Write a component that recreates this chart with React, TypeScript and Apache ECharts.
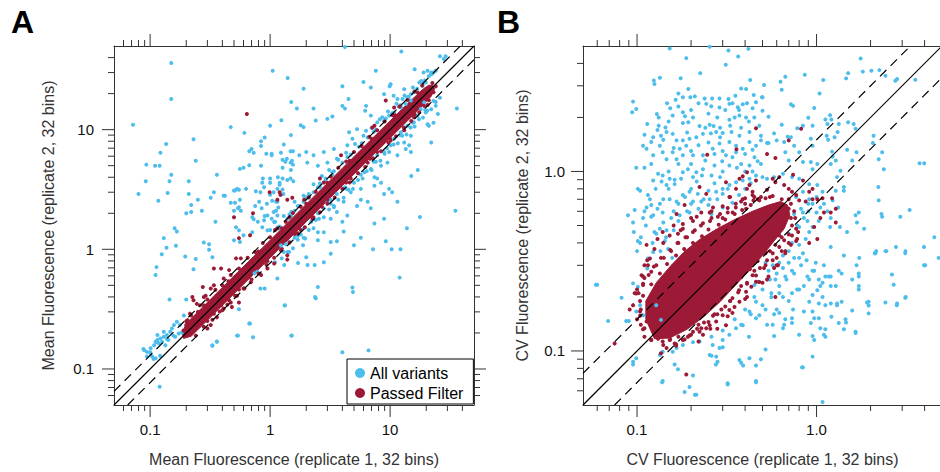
import React, { useEffect, useRef } from "react";
import * as echarts from "echarts";

const BLUE = "#4DBDEC";
const RED = "#9C1A35";
const FONT = "'Liberation Sans', Arial, Helvetica, sans-serif";

// ---------- Panel A (mean fluorescence) ----------
const aRange = [0.05, 50];
const aLabelValues = [0.1, 1, 10];
const aLabelTexts = ["0.1", "1", "10"];
const aTickMajor = [0.1, 1, 10];
const aTickMinor = [0.06, 0.07, 0.08, 0.09, 0.2, 0.3, 0.4, 0.5, 0.6, 0.7, 0.8, 0.9, 2, 3, 4, 5, 6, 7, 8, 9, 20, 30, 40];
const aDiag = [[0.05, 0.05], [50, 50]];
const aDashUp = [[0.05, 0.065], [50, 65]];
const aDashLo = [[0.065, 0.05], [65, 50]];

const aBlue = [
  [0.15, 36], [0.15, 18], [0.072, 11], [1.05, 31], [1.4, 27], [0.47, 10.5], [1.0, 10.8], [0.61, 9.4], [1.24, 12], [1.5, 17],
  [0.23, 8.3], [0.136, 7.6], [0.122, 6.4], [0.24, 5.5], [0.093, 5.1], [0.11, 5.0], [0.12, 5.0], [0.15, 4.2], [0.092, 3.7], [0.145, 3.7],
  [0.21, 3.7], [0.08, 2.9], [0.14, 2.95], [0.21, 2.9], [0.117, 2.55], [0.25, 2.6], [0.22, 2.35], [0.22, 2.05], [0.2, 2.0], [0.27, 2.1],
  [0.35, 1.7], [0.36, 4.2], [0.34, 3.0], [0.32, 2.7], [0.41, 2.8], [0.42, 2.8], [0.5, 3.1], [0.51, 3.1], [0.53, 3.2], [0.55, 3.15],
  [0.63, 3.2], [0.56, 2.6], [0.51, 2.45], [0.47, 2.45], [0.55, 2.25], [0.54, 2.2], [0.57, 2.1], [0.5, 2.1], [0.67, 6.6], [0.7, 6.9],
  [0.73, 6.4], [0.84, 7.3], [0.84, 8.0], [0.9, 8.6], [0.93, 6.3], [1.03, 6.3], [1.03, 6.1], [0.84, 5.0], [0.67, 5.05], [0.56, 4.7],
  [0.6, 4.8], [0.87, 3.9], [1.0, 3.9], [1.0, 3.6], [0.86, 3.6], [0.89, 3.3], [0.76, 3.05], [0.83, 3.0], [0.81, 2.5], [0.85, 2.2],
  [0.75, 2.3], [0.94, 2.4], [1.04, 2.55], [0.71, 1.85], [0.73, 1.78], [0.79, 1.7], [1.16, 4.0], [1.2, 3.6], [1.27, 3.9], [1.39, 3.8],
  [1.49, 4.6], [1.48, 5.3], [1.52, 5.5], [1.55, 5.1], [1.27, 4.8], [1.34, 5.4], [1.38, 5.7], [1.27, 5.6], [1.48, 6.6], [1.55, 6.6],
  [1.49, 9.0], [1.3, 7.5], [1.23, 6.4], [1.48, 3.9], [1.56, 3.7], [1.29, 2.9], [1.0, 2.86], [1.07, 3.0], [1.15, 3.2], [1.2, 3.46],
  [1.27, 3.16], [1.12, 2.5], [1.15, 2.5], [1.17, 2.24], [1.12, 2.1], [1.07, 2.05], [1.15, 1.92], [0.95, 1.92], [0.9, 1.9], [1.03, 1.8],
  [0.89, 1.75], [1.08, 1.69],
  [4.2, 49], [12.4, 45], [26, 41], [28, 39], [29, 41], [7.6, 31], [16, 32], [19, 30], [20.5, 31], [22, 30], [22, 29], [23, 30],
  [6.0, 25], [4.0, 23], [6.9, 22.5], [9.9, 23], [10.1, 24], [1.9, 22], [4.5, 18], [4.0, 15.8], [4.2, 15], [1.67, 15], [2.3, 15],
  [3.0, 12.3], [3.3, 12.9], [2.4, 11.9], [1.8, 10.9], [1.9, 10.5], [6.3, 15.8], [6.2, 14.4], [6.9, 13.1], [8.9, 19.8], [10.7, 19.2],
  [11.5, 18], [12.7, 18], [13.9, 18.6], [15.8, 20.5], [17.5, 24.8], [18.6, 23.3], [19.8, 24.8], [13.1, 21.8], [36, 15], [25, 13.5],
  [24, 15.8], [20.5, 11.1], [21, 10.8], [23, 11.4], [22, 7.8], [14.4, 7.4], [14.9, 6.5], [13.5, 6.9], [15, 4.1], [17, 4.6],
  [11.5, 2.5], [35, 2.1], [17.7, 1.86], [9.8, 3.2], [8.9, 2.9], [10.4, 3.0], [7.8, 3.9], [8.4, 3.6], [7.4, 4.0], [5.7, 2.6],
  [6.5, 2.5], [5.3, 2.3], [6.9, 2.2], [3.6, 2.05], [3.2, 1.8], [4.0, 1.7], [4.4, 1.92], [8.9, 1.8], [7.4, 1.64],
  [2.3, 6.1], [2.8, 6.5], [3.4, 6.9], [2.0, 6.5], [1.75, 6.1], [2.04, 5.3], [2.5, 5.0], [3.0, 5.3], [3.6, 5.7], [4.4, 7.4],
  [4.85, 8.4], [4.55, 9.5], [5.3, 10.1], [6.3, 9.8], [7.8, 11.5], [8.6, 12.7], [9.8, 13.1], [10.8, 13.9], [12.3, 15.3], [13.5, 16.4],
  [14.9, 17.5], [7.8, 6.1], [8.9, 6.5], [10.1, 7.4], [6.9, 4.7], [6.1, 4.4], [8.4, 5.0], [10.8, 8.4], [12.3, 9.5], [13.9, 10.8],
  [15.8, 11.5], [16.9, 13.1], [18, 14.9], [19.2, 16.9], [19.8, 13.9], [14.9, 8.9], [13.1, 7.8], [11.5, 6.1], [9.5, 5.3], [7.4, 3.4],
  [5.7, 3.2], [5.0, 3.6], [4.7, 3.0], [4.1, 2.5], [3.4, 2.3], [3.0, 2.5],
  [0.16, 1.5], [0.167, 1.41], [0.13, 1.24], [0.137, 1.03], [0.164, 1.07], [0.125, 0.91], [0.113, 0.71], [0.111, 0.61], [0.196, 0.87],
  [0.24, 0.83], [0.28, 1.14], [0.31, 1.1], [0.31, 0.99], [0.33, 0.86], [0.23, 0.68], [0.145, 0.38], [0.2, 0.38], [0.12, 0.071],
  [0.33, 0.158], [0.36, 0.169], [0.54, 0.19], [0.55, 0.316], [0.68, 0.24], [1.32, 0.34], [1.5, 0.19], [0.83, 0.47], [0.9, 0.47],
  [1.15, 0.57], [0.78, 0.65], [0.74, 0.63], [1.31, 0.74], [1.44, 0.95], [1.23, 1.08], [0.52, 1.53], [0.55, 1.44], [0.71, 1.39],
  [0.86, 1.53], [0.95, 1.44], [0.6, 1.31], [0.5, 1.19], [0.56, 1.15],
  [0.089, 0.144], [0.094, 0.139], [0.101, 0.149], [0.108, 0.158], [0.111, 0.169], [0.115, 0.175], [0.122, 0.18], [0.13, 0.186],
  [0.138, 0.192], [0.147, 0.205], [0.158, 0.233], [0.152, 0.218], [0.13, 0.205], [0.115, 0.192], [0.101, 0.135], [0.104, 0.127],
  [0.111, 0.123], [0.094, 0.127], [0.118, 0.164], [0.126, 0.169], [0.134, 0.158], [0.142, 0.175], [0.162, 0.186], [0.173, 0.198],
  [0.177, 0.233], [0.167, 0.248], [0.191, 0.28], [0.088, 0.147], [0.1, 0.138], [0.114, 0.167], [0.138, 0.178], [0.156, 0.19],
  [0.184, 0.202], [0.121, 0.129], [0.107, 0.121],
  [13.8, 1.5], [5.7, 1.25], [9.2, 1.17], [7.2, 1.0], [10.3, 1.0], [12.2, 1.0], [5.0, 1.08], [3.2, 0.92], [4.1, 1.41], [3.6, 1.17],
  [3.2, 1.15], [2.8, 0.78], [2.35, 0.74], [2.05, 0.74], [1.71, 0.77], [2.0, 0.86], [1.88, 1.08], [2.5, 1.19], [2.8, 1.39], [2.5, 1.39],
  [1.96, 1.23], [12, 0.58], [2.5, 0.485], [2.4, 0.39], [4.85, 0.48], [4.9, 0.44], [4.0, 0.138], [6.6, 0.143], [1.52, 0.19],
  [1.33, 0.34], [0.72, 0.184], [0.53, 0.19], [0.36, 0.17], [0.33, 0.156], [0.67, 0.24], [2.37, 0.4],
  [1.6, 2.1], [1.7, 2.3], [1.9, 2.5], [2.1, 2.7], [2.3, 3.0], [2.6, 3.3], [2.9, 3.7], [3.3, 4.2], [1.7, 1.3], [1.9, 1.5],
  [2.2, 1.7], [2.5, 2.0], [2.8, 2.2], [3.2, 2.6], [3.6, 2.9], [4.2, 3.3], [1.5, 1.9], [1.4, 1.8], [1.35, 1.1], [1.6, 1.25],
  [1.2, 1.5], [1.1, 1.45], [1.25, 1.02], [1.45, 1.15],
];

// dense blue fringe hugging the band
const aBlueFringe = [
  [1.0, 1.45], [1.1, 1.7], [1.2, 1.55], [1.3, 1.9], [1.45, 1.95], [1.6, 2.5], [1.75, 2.3], [1.9, 2.8], [2.1, 2.9], [2.3, 3.5],
  [2.5, 3.3], [2.7, 4.1], [2.9, 3.9], [3.1, 4.6], [3.4, 4.5], [3.7, 5.6], [4.0, 5.3], [4.3, 6.4], [4.7, 6.2], [5.1, 7.6],
  [5.5, 7.2], [6.0, 8.9], [6.5, 8.6], [7.0, 10.3], [7.6, 10.0], [8.2, 12.2], [8.9, 11.8], [9.6, 14.2], [10.4, 13.7], [11.3, 16.5],
  [12.2, 16.0], [13.2, 19.3], [14.3, 18.8], [15.5, 22.5], [16.8, 22], [18.2, 25.5], [19.5, 25.8], [21, 28], [22.5, 29.5], [24, 31],
  [1.1, 0.78], [1.25, 0.84], [1.4, 0.95], [1.55, 1.02], [1.7, 1.2], [1.9, 1.25], [2.1, 1.45], [2.3, 1.5], [2.55, 1.8], [2.8, 1.85],
  [3.1, 2.15], [3.4, 2.25], [3.7, 2.6], [4.1, 2.7], [4.5, 3.15], [4.9, 3.2], [5.4, 3.8], [5.9, 3.9], [6.4, 4.5], [7.0, 4.6],
  [7.6, 5.4], [8.3, 5.5], [9.0, 6.3], [9.8, 6.5], [10.7, 7.5], [11.6, 7.7], [12.6, 8.9], [13.7, 9.1], [14.8, 10.4], [16, 10.6],
  [17.4, 12.2], [18.8, 12.6], [20.4, 14.4], [22, 14.8], [24, 17], [26, 18.5],
  [1.15, 1.52], [1.5, 2.05], [2.0, 2.72], [2.6, 3.55], [3.3, 4.4], [4.4, 5.9], [5.8, 7.7], [7.3, 9.6], [9.2, 12.4], [11.8, 15.6],
  [14.9, 19.8], [19, 24.6], [1.3, 0.95], [1.8, 1.33], [2.4, 1.76], [3.2, 2.4], [4.3, 3.2], [5.7, 4.2], [7.3, 5.4], [9.4, 7.0],
  [12.1, 9.0], [15.4, 11.4], [19.6, 14.6], [23, 17.4],
];

const aRed = [
  [0.64, 13.5], [0.72, 2.0], [0.5, 1.85], [0.99, 3.0], [1.2, 3.0], [1.22, 2.85], [1.15, 2.6], [1.39, 2.6], [1.53, 2.7],
  [0.34, 0.69], [0.39, 0.69], [0.455, 0.67], [0.41, 0.57], [0.52, 0.84], [0.57, 0.84], [0.55, 1.24], [0.68, 1.31], [1.39, 0.82],
  [1.23, 0.98], [0.78, 0.81], [0.225, 0.4], [0.23, 0.376], [0.245, 0.35], [0.28, 0.4], [0.29, 0.41], [0.32, 0.47], [0.34, 0.5],
  [0.275, 0.485], [0.47, 0.485], [0.455, 0.376], [0.39, 0.34], [0.4, 0.31], [0.34, 0.29], [0.315, 0.295], [0.28, 0.34],
  [0.315, 0.33], [0.23, 0.248], [0.245, 0.233], [0.205, 0.256], [0.215, 0.29], [0.2, 0.233], [0.69, 0.53], [0.84, 0.61],
  [0.95, 0.69], [1.08, 0.76], [1.39, 0.89], [0.61, 0.47], [0.53, 0.41], [0.47, 0.36], [0.41, 0.32], [0.36, 0.27], [0.32, 0.233],
  [0.3, 0.218], [0.48, 0.33], [0.55, 0.36], [7.4, 10.8], [9.2, 17.5], [10.8, 15.3], [7.1, 10.4], [3.9, 6.1], [2.6, 3.9],
  [1.92, 2.6], [6.5, 5.3], [7.8, 6.5], [10.1, 8.1], [13.1, 9.9], [15.8, 12.7], [19.2, 15.8], [4.7, 3.9], [3.6, 3.2], [3.0, 2.6],
  [1.1, 1.45], [1.45, 1.85], [1.8, 1.45], [2.3, 1.85],
];

// ragged red speckle along both edges of the band
const aRedEdge = [
  [0.22, 0.28], [0.26, 0.34], [0.3, 0.38], [0.35, 0.46], [0.4, 0.5], [0.47, 0.61], [0.55, 0.69], [0.65, 0.85], [0.75, 0.95],
  [0.87, 1.13], [1.0, 1.26], [1.15, 1.49], [1.35, 1.7], [1.55, 2.01], [1.8, 2.27], [2.1, 2.72], [2.4, 3.03], [2.8, 3.62],
  [3.2, 4.05], [3.7, 4.8], [4.3, 5.42], [5.0, 6.5], [5.8, 7.3], [6.7, 8.7], [7.8, 9.9], [9.0, 11.7], [10.5, 13.2], [12, 15.6],
  [14, 17.7], [16, 20.8], [18.5, 23.4],
  [0.24, 0.19], [0.28, 0.225], [0.33, 0.258], [0.38, 0.302], [0.44, 0.345], [0.51, 0.41], [0.6, 0.47], [0.7, 0.56], [0.8, 0.628],
  [0.93, 0.745], [1.08, 0.85], [1.25, 1.0], [1.45, 1.14], [1.7, 1.36], [1.95, 1.53], [2.25, 1.8], [2.6, 2.04], [3.0, 2.4],
  [3.45, 2.71], [4.0, 3.2], [4.6, 3.62], [5.4, 4.33], [6.2, 4.87], [7.2, 5.76], [8.4, 6.6], [9.7, 7.76], [11.2, 8.8], [13, 10.4],
  [15, 11.8], [17.5, 14.0], [20.5, 16.1],
  [0.25, 0.3], [0.45, 0.54], [0.8, 0.96], [1.25, 1.5], [2.0, 2.4], [3.0, 3.6], [4.6, 5.5], [7.0, 8.4], [11, 13.2], [17, 20.4],
  [0.3, 0.252], [0.55, 0.462], [0.95, 0.8], [1.6, 1.34], [2.7, 2.27], [4.3, 3.61], [6.8, 5.71], [10, 8.4], [16, 13.4], [21, 17.6],
  [0.2, 0.25], [0.21, 0.2], [0.19, 0.21], [22.5, 24.5], [24, 23], [23, 20.5],
];

const aRedCore = [
  [0.185, 0.2], [0.2, 0.24], [0.3, 0.36], [0.5, 0.6], [1, 1.19], [2, 2.38], [4, 4.76], [8, 9.5], [14, 16.5], [19, 22],
  [21, 23.5], [22.5, 23.5], [23.5, 22], [22, 19], [16, 13.6], [8, 6.8], [4, 3.4], [2, 1.7], [1, 0.85], [0.5, 0.425], [0.3, 0.255],
  [0.22, 0.188], [0.19, 0.18],
];

// ---------- Panel B (CV fluorescence) ----------
const bRange = [0.05, 5];
const bLabelValues = [0.1, 1];
const bLabelTexts = ["0.1", "1.0"];
const bTickMajor = [0.1, 1];
const bTickMinor = [0.06, 0.07, 0.08, 0.09, 0.2, 0.3, 0.4, 0.5, 0.6, 0.7, 0.8, 0.9, 2, 3, 4];
const bDiag = [[0.05, 0.05], [5, 5]];
const bDashUp = [[0.05, 0.075], [5, 7.5]];
const bDashLo = [[0.075, 0.05], [7.5, 5]];

const bBlue = [
  [0.152, 4.84], [0.254, 4.95], [0.323, 4.72], [0.417, 4.82], [0.188, 4.28], [0.366, 4.37], [0.312, 3.93], [0.225, 3.53],
  [0.124, 3.21], [0.125, 3.07], [0.134, 3.33], [0.175, 3.31], [0.427, 3.23], [0.193, 2.88], [0.17, 2.72], [0.18, 2.59],
  [0.198, 2.59], [0.21, 2.62], [0.095, 2.45], [0.099, 2.23], [0.094, 2.14], [0.147, 2.4], [0.164, 2.51], [0.153, 2.25],
  [0.238, 2.55], [0.262, 2.55], [0.288, 2.55], [0.323, 2.53], [0.353, 2.64], [0.38, 2.9], [0.405, 2.88], [0.447, 2.67],
  [0.46, 2.43], [0.497, 2.59], [0.243, 2.38], [0.259, 2.31], [0.288, 2.27], [0.327, 2.38], [0.364, 2.28], [0.388, 2.37],
  [0.129, 2.09], [0.132, 2.0], [0.114, 1.84], [0.132, 1.8], [0.144, 1.76], [0.158, 2.05], [0.18, 2.14], [0.185, 2.03],
  [0.18, 1.86], [0.193, 1.88], [0.205, 2.0], [0.223, 1.79], [0.254, 1.82], [0.267, 1.79], [0.29, 1.75], [0.327, 1.94],
  [0.35, 2.0], [0.372, 2.05], [0.405, 2.0], [0.44, 2.25], [0.423, 1.66], [0.372, 1.58], [0.336, 1.66], [0.3, 1.64],
  [0.276, 1.66], [0.258, 1.63], [0.12, 1.46], [0.123, 1.55], [0.136, 1.58], [0.146, 1.66], [0.158, 1.62], [0.166, 1.49],
  [0.18, 1.49], [0.196, 1.52], [0.214, 1.55], [0.233, 1.62], [0.188, 1.39], [0.173, 1.34], [0.158, 1.28], [0.139, 1.28],
  [0.134, 1.39], [0.123, 1.23], [0.113, 1.34], [0.108, 1.39], [0.146, 1.17], [0.166, 1.17], [0.18, 1.23], [0.205, 1.23],
  [0.233, 1.23], [0.264, 1.34], [0.288, 1.43], [0.327, 1.46], [0.356, 1.39], [0.388, 1.34], [0.423, 1.46], [0.46, 1.39],
  [0.49, 1.49], [0.099, 1.05], [0.11, 1.05], [0.101, 0.8], [0.104, 0.78], [0.115, 0.74], [0.131, 0.97], [0.139, 0.95],
  [0.152, 0.91], [0.123, 0.89], [0.146, 0.84], [0.162, 0.85], [0.18, 0.99], [0.192, 1.03], [0.176, 0.91], [0.205, 0.93],
  [0.214, 0.99], [0.233, 1.03], [0.27, 1.08], [0.298, 1.14], [0.313, 1.23], [0.356, 1.28], [0.451, 1.2], [0.47, 1.14],
  [0.49, 1.1], [0.423, 1.08], [0.38, 1.1], [0.327, 1.08], [0.089, 0.57], [0.097, 0.61], [0.113, 0.63], [0.12, 0.65],
  [0.134, 0.66], [0.152, 0.7], [0.166, 0.68], [0.18, 0.74], [0.196, 0.77], [0.218, 0.75], [0.205, 0.68], [0.228, 0.68],
  [0.254, 0.7], [0.276, 0.77], [0.3, 0.8], [0.327, 0.84], [0.356, 0.87], [0.388, 0.89], [0.423, 0.91], [0.46, 0.95],
  [0.173, 0.57], [0.196, 0.59], [0.139, 0.59], [0.123, 0.57], [0.108, 0.55], [0.095, 0.52],
  [0.096, 0.46], [0.104, 0.4], [0.101, 0.41], [0.125, 0.46], [0.134, 0.48], [0.146, 0.47], [0.143, 0.41], [0.149, 0.37],
  [0.157, 0.33], [0.059, 0.234], [0.082, 0.198], [0.069, 0.147], [0.087, 0.147], [0.09, 0.147], [0.095, 0.238], [0.101, 0.228],
  [0.104, 0.18], [0.099, 0.166], [0.108, 0.158], [0.114, 0.288], [0.115, 0.327], [0.123, 0.356], [0.128, 0.18], [0.136, 0.149],
  [0.095, 0.087], [0.099, 0.091], [0.139, 0.068], [0.169, 0.079], [0.184, 0.059], [0.196, 0.063], [0.214, 0.057], [0.372, 0.089],
  [0.38, 0.086], [0.423, 0.091], [0.46, 0.068], [0.32, 0.066], [0.223, 0.113], [0.205, 0.112], [0.3, 0.115], [0.327, 0.123],
  [0.356, 0.134], [0.388, 0.139], [0.423, 0.166], [0.46, 0.188], [0.47, 0.243], [0.451, 0.233], [0.48, 0.158], [0.46, 0.152],
  [0.264, 0.108], [0.276, 0.093], [0.281, 0.087], [0.254, 0.095], [0.288, 0.104], [0.158, 0.099], [0.166, 0.104], [0.18, 0.108],
  [0.139, 0.099], [0.134, 0.095], [0.162, 0.084],
  [1.76, 4.26], [1.5, 3.53], [1.46, 3.3], [1.81, 3.6], [2.02, 3.64], [2.24, 3.67], [2.42, 3.41], [2.81, 3.27], [2.75, 3.2],
  [3.55, 3.24], [1.09, 3.23], [0.86, 3.46], [0.67, 3.37], [0.63, 3.16], [0.64, 2.85], [0.51, 3.03], [0.5, 2.59], [0.5, 2.18],
  [0.54, 2.02], [0.72, 2.37], [0.74, 2.32], [1.04, 2.72], [0.97, 2.26], [1.19, 2.06], [1.12, 1.95], [1.21, 1.95], [0.9, 1.99],
  [0.95, 1.8], [0.84, 1.8], [0.78, 1.74], [0.72, 1.55], [0.69, 1.56], [0.66, 1.46], [0.6, 1.49], [0.58, 1.63], [0.53, 1.44],
  [0.54, 1.44], [0.64, 1.82], [0.49, 1.58], [1.15, 1.84], [1.33, 1.84], [1.5, 1.88], [1.61, 1.84], [1.65, 1.73], [1.31, 1.66],
  [1.26, 1.55], [1.16, 1.5], [1.14, 1.58], [0.93, 1.52], [0.95, 1.39], [0.75, 1.39], [0.8, 1.28], [0.67, 1.28], [0.7, 1.15],
  [0.84, 1.13], [0.93, 1.13], [1.01, 1.1], [0.95, 1.03], [1.2, 1.1], [1.28, 1.15], [1.23, 1.21], [1.22, 1.29], [1.48, 1.32],
  [1.67, 1.28], [1.58, 1.15], [1.36, 1.01], [1.3, 0.93], [2.08, 1.58], [2.06, 1.44], [2.32, 1.28], [2.22, 0.69], [2.21, 0.82],
  [2.37, 1.03], [2.22, 1.17],
  [1.42, 0.78], [1.28, 0.78], [1.08, 0.77], [1.23, 0.69], [1.32, 0.63], [1.03, 0.53], [1.0, 0.59], [1.05, 0.63], [1.2, 0.55],
  [0.95, 0.49], [1.19, 0.49], [1.35, 0.49], [1.42, 0.82], [1.48, 0.46], [1.72, 0.59], [1.65, 0.57], [1.68, 0.52], [1.84, 0.48],
  [2.3, 0.58], [2.32, 0.56], [2.93, 0.56], [3.3, 0.61], [3.75, 1.11], [3.98, 1.11], [4.53, 0.43], [4.79, 0.33], [3.97, 0.38],
  [3.97, 0.3], [3.13, 0.36], [2.77, 0.38], [2.45, 0.36], [2.15, 0.36], [2.11, 0.35], [1.73, 0.33], [1.67, 0.3], [1.72, 0.26],
  [1.58, 0.25], [1.38, 0.27], [1.33, 0.28], [1.2, 0.26], [1.17, 0.26], [1.12, 0.26], [1.1, 0.3], [0.99, 0.31], [0.97, 0.28],
  [0.89, 0.26], [0.91, 0.25], [1.03, 0.25], [1.28, 0.23], [1.2, 0.23], [1.05, 0.23], [0.85, 0.23], [0.8, 0.22], [0.73, 0.21],
  [0.65, 0.2], [0.62, 0.21], [0.56, 0.2], [0.52, 0.17], [0.58, 0.16], [0.57, 0.14], [0.65, 0.134], [0.73, 0.152], [0.73, 0.143],
  [0.8, 0.123], [0.85, 0.166], [0.91, 0.188], [0.95, 0.205], [1.01, 0.218], [1.03, 0.184], [1.08, 0.2], [1.12, 0.18], [1.2, 0.184],
  [1.3, 0.184], [1.38, 0.188], [0.95, 0.166], [0.97, 0.152], [1.03, 0.152], [0.93, 0.143], [1.05, 0.134], [1.21, 0.155],
  [1.33, 0.143], [1.46, 0.144], [1.58, 0.168], [1.72, 0.23], [1.95, 0.188], [1.95, 0.162], [1.95, 0.179], [2.42, 0.186],
  [2.81, 0.184], [3.14, 0.2], [1.65, 0.128], [0.97, 0.115], [1.1, 0.123], [1.12, 0.12], [0.95, 0.093], [0.84, 0.081],
  [1.08, 0.052], [0.49, 0.09],
  [0.5, 0.93], [0.53, 0.91], [0.58, 0.93], [0.65, 0.97], [0.73, 0.93], [0.8, 0.91], [0.91, 0.85], [1.01, 0.84], [0.84, 0.77],
  [0.77, 0.72], [0.91, 0.7], [0.95, 0.66], [0.84, 0.59], [0.89, 0.53], [0.8, 0.49], [0.91, 0.46], [0.87, 0.42], [0.8, 0.39],
  [0.73, 0.4], [0.7, 0.36], [0.65, 0.34], [0.62, 0.31], [0.57, 0.3], [0.52, 0.31], [0.54, 0.28], [0.59, 0.25], [0.67, 0.26],
  [0.73, 0.28], [0.8, 0.33], [0.84, 0.35],
  [4.03, 0.3], [3.12, 0.35], [2.42, 0.36], [2.13, 0.35], [1.42, 0.34], [1.2, 0.38], [0.95, 0.28], [1.08, 0.24], [1.3, 0.18],
  [1.65, 0.126], [1.91, 0.186], [2.8, 0.18], [3.12, 0.198], [2.69, 0.234], [2.63, 0.267], [1.72, 0.27], [1.72, 0.22], [1.45, 0.15],
  [1.42, 0.132], [1.12, 0.132], [0.95, 0.121], [0.83, 0.081], [0.46, 0.067], [0.32, 0.065], [0.21, 0.057], [0.138, 0.067],
  [0.205, 0.073], [0.06, 0.234], [0.095, 0.084], [0.62, 0.163], [0.67, 0.15], [0.58, 0.121], [0.52, 0.102], [0.39, 0.083],
  [0.46, 0.083], [0.275, 0.084], [0.26, 0.094],
  [0.11, 1.6], [0.13, 1.7], [0.15, 1.9], [0.17, 2.3], [0.2, 2.2], [0.22, 2.4], [0.25, 2.1], [0.28, 2.0], [0.31, 2.2], [0.34, 2.4],
  [0.37, 2.2], [0.41, 2.4], [0.45, 2.0], [0.48, 1.8], [0.42, 1.9], [0.38, 1.75], [0.33, 1.8], [0.29, 1.55], [0.25, 1.45],
  [0.22, 1.4], [0.2, 1.3], [0.17, 1.1], [0.2, 1.1], [0.24, 1.15], [0.27, 1.25], [0.3, 1.3], [0.34, 1.2], [0.4, 1.25], [0.44, 1.32],
  [0.15, 1.0], [0.12, 1.1], [0.26, 0.95], [0.3, 1.0], [0.36, 1.05], [0.4, 1.0], [0.44, 1.0], [0.14, 1.5], [0.16, 1.35],
  [0.19, 1.65], [0.24, 1.75],
];

// blue that crowds around the red cloud
const bBlueNear = [
  [0.1, 0.36], [0.105, 0.43], [0.112, 0.5], [0.12, 0.56], [0.13, 0.62], [0.14, 0.7], [0.15, 0.8], [0.162, 0.9], [0.11, 0.6],
  [0.118, 0.7], [0.127, 0.8], [0.137, 0.88], [0.16, 0.6], [0.17, 0.66], [0.185, 0.72], [0.2, 0.8], [0.215, 0.88], [0.23, 0.95],
  [0.19, 0.6], [0.2, 0.66], [0.22, 0.62], [0.235, 0.7], [0.25, 0.78], [0.27, 0.86], [0.29, 0.93], [0.14, 0.52], [0.155, 0.55],
  [0.17, 0.53], [0.128, 0.45], [0.122, 0.4], [0.135, 0.36], [0.145, 0.43], [0.16, 0.47], [0.25, 0.65], [0.28, 0.7], [0.3, 0.75],
  [0.32, 0.8], [0.34, 0.67], [0.37, 0.74], [0.4, 0.8], [0.43, 0.86], [0.3, 0.63], [0.26, 0.58],
  [0.3, 0.13], [0.35, 0.15], [0.4, 0.17], [0.45, 0.2], [0.5, 0.22], [0.55, 0.25], [0.6, 0.27], [0.65, 0.29], [0.7, 0.31],
  [0.75, 0.33], [0.38, 0.14], [0.43, 0.16], [0.5, 0.18], [0.56, 0.21], [0.62, 0.23], [0.68, 0.25], [0.75, 0.27], [0.82, 0.3],
  [0.88, 0.32], [0.26, 0.12], [0.3, 0.105], [0.42, 0.12], [0.53, 0.14], [0.6, 0.17], [0.7, 0.19], [0.78, 0.22], [0.66, 0.14],
  [0.74, 0.17], [0.7, 0.45], [0.78, 0.5], [0.85, 0.55], [0.9, 0.6], [0.75, 0.58], [0.82, 0.62], [0.9, 0.66], [1.0, 0.72],
  [1.1, 0.66], [1.15, 0.6],
];

const bRed = [
  [0.46, 1.74], [0.246, 1.24], [0.358, 1.33], [0.41, 0.99], [0.388, 0.94], [0.372, 0.91], [0.313, 0.87], [0.356, 0.8],
  [0.423, 0.84], [0.46, 0.89], [0.44, 0.77], [0.47, 0.7], [0.327, 0.72], [0.388, 0.7], [0.223, 0.82], [0.243, 0.75],
  [0.184, 0.65], [0.166, 0.58], [0.205, 0.53], [0.18, 0.51], [0.254, 0.59], [0.228, 0.59], [0.3, 0.55], [0.341, 0.59],
  [0.405, 0.62], [0.075, 0.11], [0.099, 0.209], [0.095, 0.18], [0.104, 0.166], [0.113, 0.146], [0.11, 0.134], [0.125, 0.131],
  [0.131, 0.117], [0.139, 0.113], [0.152, 0.115], [0.162, 0.11], [0.18, 0.115], [0.192, 0.12], [0.205, 0.128], [0.223, 0.128],
  [0.243, 0.134], [0.254, 0.139], [0.3, 0.158], [0.327, 0.169], [0.349, 0.176], [0.372, 0.188], [0.188, 0.074], [0.136, 0.097],
  [0.146, 0.104], [0.233, 0.123], [0.276, 0.146], [0.313, 0.139], [0.405, 0.214], [0.433, 0.228], [0.46, 0.243], [0.139, 0.46],
  [0.152, 0.44], [0.169, 0.45], [0.18, 0.48], [0.125, 0.37], [0.118, 0.327], [0.12, 0.276], [0.108, 0.233], [0.106, 0.264],
  [0.113, 0.39], [0.11, 0.3], [0.097, 0.21], [0.091, 0.17], [0.82, 1.73], [0.53, 1.25], [0.59, 1.19], [0.7, 1.49], [0.74, 0.96],
  [0.84, 0.89], [0.59, 0.87], [0.57, 0.91], [0.62, 0.93], [0.66, 0.84], [0.7, 0.8], [0.73, 0.77], [0.77, 0.74], [0.8, 0.69],
  [0.87, 0.68], [0.91, 0.77], [0.95, 0.8], [0.95, 0.7], [1.01, 0.7], [1.08, 0.71], [1.22, 0.71], [1.28, 0.62], [1.2, 0.59],
  [1.28, 0.52], [1.1, 0.59], [1.05, 0.55], [0.97, 0.49], [1.01, 0.42], [0.91, 0.4], [0.78, 0.42], [0.77, 0.48], [0.73, 0.44],
  [0.72, 0.39], [0.67, 0.36], [0.6, 0.33], [0.6, 0.3], [0.54, 0.26], [0.53, 0.25], [0.59, 0.2], [0.52, 0.36], [0.5, 0.39],
  [0.49, 0.42], [0.13, 0.42], [0.16, 0.5], [0.2, 0.55], [0.26, 0.6], [0.3, 0.64], [0.38, 0.68], [0.45, 0.72], [0.55, 0.72],
  [0.64, 0.7], [0.7, 0.62], [0.72, 0.55], [0.62, 0.44], [0.55, 0.36], [0.52, 0.3], [0.45, 0.28], [0.38, 0.23], [0.33, 0.19],
  [0.27, 0.16], [0.22, 0.14], [0.17, 0.12], [0.14, 0.108], [0.12, 0.115], [0.105, 0.14], [0.104, 0.19], [0.108, 0.26],
  [0.115, 0.3],
];

// speckled red around the solid core of the cloud
const bRedEdge = [
  [0.108, 0.203], [0.1, 0.22], [0.134, 0.27], [0.124, 0.295], [0.114, 0.32], [0.165, 0.34], [0.153, 0.365], [0.14, 0.4],
  [0.205, 0.4], [0.19, 0.43], [0.175, 0.47], [0.25, 0.475], [0.233, 0.515], [0.215, 0.56], [0.31, 0.54], [0.29, 0.58],
  [0.265, 0.63], [0.385, 0.61], [0.355, 0.66], [0.33, 0.72], [0.48, 0.69], [0.44, 0.74], [0.41, 0.8], [0.57, 0.73],
  [0.53, 0.79], [0.12, 0.235], [0.11, 0.255], [0.147, 0.305], [0.136, 0.33], [0.183, 0.37], [0.17, 0.4], [0.23, 0.435],
  [0.21, 0.47], [0.285, 0.505], [0.26, 0.55], [0.35, 0.58], [0.32, 0.625], [0.43, 0.65], [0.4, 0.71], [0.52, 0.71],
  [0.73, 0.5], [0.79, 0.46], [0.64, 0.43], [0.7, 0.4], [0.52, 0.35], [0.57, 0.32], [0.61, 0.3], [0.425, 0.285], [0.46, 0.263],
  [0.5, 0.24], [0.34, 0.23], [0.366, 0.212], [0.4, 0.195], [0.27, 0.184], [0.295, 0.17], [0.32, 0.156], [0.218, 0.156],
  [0.236, 0.144], [0.256, 0.133], [0.18, 0.132], [0.196, 0.122], [0.153, 0.116], [0.165, 0.107], [0.59, 0.39], [0.64, 0.36],
  [0.47, 0.317], [0.51, 0.29], [0.38, 0.257], [0.41, 0.237], [0.305, 0.207], [0.33, 0.19], [0.245, 0.17], [0.265, 0.157],
  [0.2, 0.144], [0.216, 0.133], [0.104, 0.157], [0.108, 0.132], [0.11, 0.12], [0.12, 0.115], [0.105, 0.17], [0.1, 0.15],
  [0.72, 0.66], [0.75, 0.6], [0.7, 0.7], [0.76, 0.55],
  [0.7, 0.445], [0.77, 0.41], [0.62, 0.38], [0.67, 0.35], [0.53, 0.32], [0.58, 0.29], [0.44, 0.264], [0.48, 0.242],
  [0.37, 0.218], [0.41, 0.2], [0.31, 0.177], [0.34, 0.163], [0.25, 0.145], [0.28, 0.133], [0.2, 0.123], [0.22, 0.113],
  [0.165, 0.109], [0.102, 0.21], [0.116, 0.265], [0.141, 0.33], [0.168, 0.4], [0.205, 0.46], [0.255, 0.53], [0.32, 0.59],
  [0.4, 0.66], [0.49, 0.72], [0.108, 0.237], [0.128, 0.3], [0.155, 0.36], [0.186, 0.43], [0.227, 0.5], [0.282, 0.56],
  [0.355, 0.63], [0.445, 0.69], [0.66, 0.414], [0.57, 0.35], [0.484, 0.29], [0.41, 0.24], [0.34, 0.197], [0.28, 0.16],
  [0.228, 0.134], [0.184, 0.116],
];

const bRedCore = [
  [0.112, 0.15], [0.112, 0.19], [0.128, 0.24], [0.155, 0.3], [0.185, 0.36], [0.225, 0.42], [0.28, 0.48], [0.35, 0.54],
  [0.44, 0.6], [0.54, 0.65], [0.63, 0.68], [0.69, 0.65], [0.71, 0.57], [0.66, 0.48], [0.58, 0.41], [0.5, 0.34], [0.42, 0.28],
  [0.35, 0.23], [0.29, 0.188], [0.235, 0.155], [0.19, 0.132], [0.152, 0.118], [0.125, 0.117],
];

function labelFormatter(values: number[], texts: string[]) {
  return (v: number) => {
    for (let i = 0; i < values.length; i++) {
      if (Math.abs(v - values[i]) / values[i] < 1e-6) return texts[i];
    }
    return "";
  };
}

function axis(gridIndex: number, range: number[], position: string, opts: any = {}) {
  return {
    type: "log",
    logBase: 10,
    gridIndex,
    min: range[0],
    max: range[1],
    position,
    axisLine: { show: true, onZero: false, lineStyle: { color: "#333", width: 1 } },
    axisTick: { show: false },
    minorTick: { show: false },
    splitLine: { show: false },
    axisLabel: { show: false },
    ...opts,
  };
}

function tickSeries(xi: number, yi: number, range: number[], major: number[], minor: number[]) {
  const data = major.map((v) => [v, v, 1]).concat(minor.map((v) => [v, v, 0]));
  const lo = range[0];
  const hi = range[1];
  return {
    type: "custom",
    xAxisIndex: xi,
    yAxisIndex: yi,
    clip: false,
    silent: true,
    encode: { x: 0, y: 1 },
    data,
    renderItem: (params: any, api: any) => {
      const v = api.value(0);
      const len = api.value(2) === 1 ? 12 : 6;
      const b = api.coord([v, lo]);
      const t = api.coord([v, hi]);
      const l = api.coord([lo, v]);
      const r = api.coord([hi, v]);
      const st = { stroke: "#333", lineWidth: 1 };
      return {
        type: "group",
        children: [
          { type: "line", shape: { x1: b[0], y1: b[1], x2: b[0], y2: b[1] + len }, style: st },
          { type: "line", shape: { x1: t[0], y1: t[1], x2: t[0], y2: t[1] - len }, style: st },
          { type: "line", shape: { x1: l[0], y1: l[1], x2: l[0] - len, y2: l[1] }, style: st },
          { type: "line", shape: { x1: r[0], y1: r[1], x2: r[0] + len, y2: r[1] }, style: st },
        ],
      };
    },
  };
}

function polygonSeries(name: string, xi: number, yi: number, verts: number[][], color: string) {
  return {
    name,
    type: "custom",
    xAxisIndex: xi,
    yAxisIndex: yi,
    silent: true,
    data: verts,
    encode: { x: 0, y: 1 },
    renderItem: (params: any, api: any) => {
      if (params.dataIndex !== 0) return null;
      return {
        type: "polygon",
        shape: { points: verts.map((p) => api.coord(p)) },
        style: { fill: color, stroke: color, lineWidth: 1 },
      };
    },
  };
}

function scatter(name: string, xi: number, yi: number, data: number[][], color: string) {
  return {
    name,
    type: "scatter",
    xAxisIndex: xi,
    yAxisIndex: yi,
    data,
    symbol: "circle",
    symbolSize: 4,
    silent: true,
    itemStyle: { color, opacity: 1 },
  };
}

function lineSeries(xi: number, yi: number, data: number[][], dashed: boolean) {
  return {
    type: "line",
    xAxisIndex: xi,
    yAxisIndex: yi,
    data,
    symbol: "none",
    silent: true,
    clip: true,
    lineStyle: { color: "#000", width: 1.2, type: dashed ? [9, 6] : "solid" },
    z: 5,
  };
}

const tickLabel = { color: "#111", fontSize: 15, fontFamily: FONT };
const nameStyle = { color: "#333", fontSize: 16, fontFamily: FONT };

const option: any = {
  animation: false,
  backgroundColor: "#fff",
  textStyle: { fontFamily: FONT },
  grid: [
    { left: 114, top: 46, width: 360, height: 359, containLabel: false, outerBoundsMode: "none" },
    { left: 583, top: 46, width: 359, height: 359, containLabel: false, outerBoundsMode: "none" },
  ],
  xAxis: [
    axis(0, aRange, "bottom", {
      name: "Mean Fluorescence (replicate 1, 32 bins)",
      nameLocation: "middle",
      nameGap: 46,
      nameTextStyle: nameStyle,
      axisLabel: { show: true, margin: 17, ...tickLabel, formatter: labelFormatter(aLabelValues, aLabelTexts) },
    }),
    axis(0, aRange, "top"),
    axis(1, bRange, "bottom", {
      name: "CV Fluorescence (replicate 1, 32 bins)",
      nameLocation: "middle",
      nameGap: 46,
      nameTextStyle: nameStyle,
      axisLabel: { show: true, margin: 17, ...tickLabel, formatter: labelFormatter(bLabelValues, bLabelTexts) },
    }),
    axis(1, bRange, "top"),
  ],
  yAxis: [
    axis(0, aRange, "left", {
      name: "Mean Fluorescence (replicate 2, 32 bins)",
      nameLocation: "middle",
      nameGap: 58,
      nameTextStyle: nameStyle,
      axisLabel: { show: true, margin: 20, ...tickLabel, formatter: labelFormatter(aLabelValues, aLabelTexts) },
    }),
    axis(0, aRange, "right"),
    axis(1, bRange, "left", {
      name: "CV Fluorescence (replicate 2, 32 bins)",
      nameLocation: "middle",
      nameGap: 53,
      nameTextStyle: nameStyle,
      axisLabel: { show: true, margin: 18, ...tickLabel, formatter: labelFormatter(bLabelValues, bLabelTexts) },
    }),
    axis(1, bRange, "right"),
  ],
  legend: {
    orient: "vertical",
    left: 347,
    top: 359,
    itemWidth: 10,
    itemHeight: 10,
    itemGap: 4,
    padding: [6, 10, 3, 8],
    borderColor: "#000",
    borderWidth: 1,
    borderRadius: 0,
    backgroundColor: "#fff",
    selectedMode: false,
    icon: "circle",
    textStyle: { fontSize: 16, color: "#000", fontFamily: FONT },
    data: ["All variants", "Passed Filter"],
    z: 10,
  },
  graphic: [
    { type: "text", left: 11, top: 6, style: { text: "A", font: `bold 32px ${FONT}`, fill: "#000" } },
    { type: "text", left: 497, top: 6, style: { text: "B", font: `bold 32px ${FONT}`, fill: "#000" } },
  ],
  series: [
    scatter("All variants", 0, 0, aBlue.concat(aBlueFringe), BLUE),
    polygonSeries("A core", 0, 0, aRedCore, RED),
    scatter("Passed Filter", 0, 0, aRed.concat(aRedEdge), RED),
    lineSeries(0, 0, aDiag, false),
    lineSeries(0, 0, aDashUp, true),
    lineSeries(0, 0, aDashLo, true),
    tickSeries(0, 0, aRange, aTickMajor, aTickMinor),
    scatter("All variants", 2, 2, bBlue.concat(bBlueNear), BLUE),
    polygonSeries("B core", 2, 2, bRedCore, RED),
    scatter("Passed Filter", 2, 2, bRed.concat(bRedEdge), RED),
    lineSeries(2, 2, bDiag, false),
    lineSeries(2, 2, bDashUp, true),
    lineSeries(2, 2, bDashLo, true),
    tickSeries(2, 2, bRange, bTickMajor, bTickMinor),
  ],
};

export default function App() {
  const ref = useRef<HTMLDivElement>(null);
  useEffect(() => {
    const chart = echarts.init(ref.current as HTMLDivElement, undefined, { renderer: "svg" });
    chart.setOption(option);
    return () => chart.dispose();
  }, []);
  return (
    <div
      ref={ref}
      style={{ position: "fixed", left: 0, top: 0, width: 940, height: 472, background: "#fff" }}
    />
  );
}
